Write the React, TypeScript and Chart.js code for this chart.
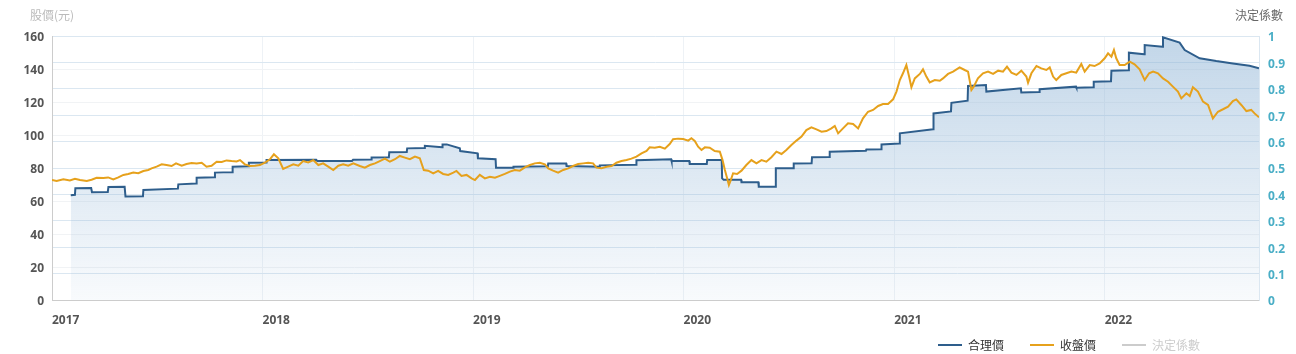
import React, { useEffect, useRef } from "react";
import { Chart, registerables } from "chart.js";

Chart.register(...registerables);

// ---- data (x = fractional year) ----
const closeYears = [
  2017.000, 2017.022, 2017.054, 2017.085, 2017.109, 2017.133, 2017.165, 2017.188, 2017.212, 2017.244,
  2017.267, 2017.291, 2017.315, 2017.339, 2017.362, 2017.386, 2017.410, 2017.434, 2017.457, 2017.473,
  2017.497, 2017.521, 2017.544, 2017.568, 2017.589, 2017.616, 2017.639, 2017.663, 2017.687, 2017.711,
  2017.734, 2017.758, 2017.782, 2017.806, 2017.829, 2017.853, 2017.877, 2017.893, 2017.916, 2017.940,
  2017.964, 2017.988, 2018.011, 2018.035, 2018.054, 2018.075, 2018.098, 2018.122, 2018.146, 2018.170,
  2018.193, 2018.217, 2018.241, 2018.265, 2018.288, 2018.312, 2018.336, 2018.360, 2018.383, 2018.407,
  2018.431, 2018.462, 2018.486, 2018.510, 2018.534, 2018.557, 2018.581, 2018.605, 2018.629, 2018.652,
  2018.676, 2018.700, 2018.724, 2018.747, 2018.766, 2018.787, 2018.811, 2018.834, 2018.858, 2018.882,
  2018.906, 2018.921, 2018.945, 2018.969, 2018.993, 2019.009, 2019.032, 2019.056, 2019.080, 2019.104,
  2019.127, 2019.151, 2019.175, 2019.198, 2019.222, 2019.246, 2019.270, 2019.293, 2019.317, 2019.341,
  2019.357, 2019.380, 2019.404, 2019.428, 2019.452, 2019.475, 2019.499, 2019.523, 2019.547, 2019.570,
  2019.586, 2019.610, 2019.634, 2019.658, 2019.681, 2019.705, 2019.729, 2019.752, 2019.776, 2019.800,
  2019.824, 2019.839, 2019.863, 2019.887, 2019.911, 2019.934, 2019.950, 2019.974, 2019.998, 2020.022,
  2020.037, 2020.053, 2020.069, 2020.085, 2020.101, 2020.124, 2020.148, 2020.172, 2020.185, 2020.196,
  2020.207, 2020.215, 2020.224, 2020.235, 2020.254, 2020.275, 2020.298, 2020.322, 2020.346, 2020.370,
  2020.393, 2020.417, 2020.441, 2020.465, 2020.488, 2020.512, 2020.536, 2020.560, 2020.583, 2020.607,
  2020.631, 2020.655, 2020.678, 2020.702, 2020.718, 2020.734, 2020.757, 2020.781, 2020.805, 2020.829,
  2020.852, 2020.876, 2020.900, 2020.924, 2020.947, 2020.971, 2020.995, 2021.011, 2021.027, 2021.042,
  2021.058, 2021.071, 2021.082, 2021.098, 2021.122, 2021.137, 2021.153, 2021.169, 2021.193, 2021.217,
  2021.232, 2021.256, 2021.280, 2021.311, 2021.335, 2021.351, 2021.367, 2021.378, 2021.398, 2021.422,
  2021.446, 2021.470, 2021.494, 2021.517, 2021.536, 2021.557, 2021.581, 2021.604, 2021.628, 2021.636,
  2021.652, 2021.676, 2021.699, 2021.723, 2021.739, 2021.755, 2021.770, 2021.794, 2021.818, 2021.842,
  2021.865, 2021.889, 2021.905, 2021.929, 2021.952, 2021.976, 2022.000, 2022.016, 2022.032, 2022.044,
  2022.055, 2022.071, 2022.095, 2022.119, 2022.142, 2022.166, 2022.190, 2022.211, 2022.230, 2022.253,
  2022.277, 2022.301, 2022.324, 2022.348, 2022.364, 2022.388, 2022.404, 2022.419, 2022.443, 2022.467,
  2022.491, 2022.514, 2022.538, 2022.562, 2022.586, 2022.609, 2022.625, 2022.649, 2022.673, 2022.696,
  2022.712, 2022.733,
];

const closePrices = [
  72.7, 72.1, 73.1, 72.5, 73.5, 72.7, 72.1, 72.9, 74.1, 73.9,
  74.3, 73.1, 74.3, 75.8, 76.4, 77.2, 76.8, 78.2, 78.8, 79.8,
  80.8, 82.2, 81.8, 81.2, 82.8, 81.4, 82.4, 83.0, 82.8, 83.2,
  80.8, 81.4, 83.8, 83.6, 84.6, 84.2, 84.0, 84.8, 82.2, 81.2,
  81.4, 81.8, 83.2, 85.3, 88.3, 85.9, 79.4, 80.8, 82.2, 81.4,
  84.2, 83.4, 84.8, 81.8, 82.8, 80.8, 78.8, 81.4, 82.2, 81.4,
  82.8, 81.2, 80.2, 81.8, 82.8, 84.2, 85.7, 83.8, 85.3, 87.3,
  86.3, 85.3, 86.9, 85.9, 78.8, 78.4, 76.8, 78.2, 76.4, 75.8,
  77.2, 78.2, 75.2, 75.8, 73.7, 72.7, 75.8, 73.7, 74.7, 74.1,
  75.2, 76.4, 77.8, 78.8, 78.4, 80.4, 81.8, 82.8, 83.2, 82.2,
  79.8, 78.4, 77.2, 78.8, 79.8, 81.2, 82.4, 82.8, 83.2, 82.8,
  80.2, 79.8, 80.8, 81.2, 83.2, 84.2, 84.8, 85.7, 86.9, 88.9,
  90.3, 92.5, 92.3, 92.9, 91.7, 94.5, 97.4, 97.8, 97.6, 96.6,
  98.0, 96.4, 92.9, 90.9, 92.5, 92.3, 90.3, 89.9, 84.8, 78.8,
  73.7, 69.7, 72.7, 76.8, 76.4, 78.4, 81.8, 84.8, 82.8, 84.8,
  83.8, 86.5, 89.9, 88.5, 90.9, 93.9, 96.6, 99.0, 103.0, 104.6,
  103.4, 102.0, 102.4, 104.0, 105.5, 101.0, 104.0, 107.1, 106.7, 104.0,
  110.1, 114.1, 115.2, 117.6, 118.8, 118.8, 121.6, 126.3, 133.3, 137.4,
  142.4, 135.4, 128.9, 134.3, 137.0, 139.8, 135.4, 131.9, 133.3, 132.9,
  134.3, 137.0, 138.4, 141.0, 139.4, 138.4, 127.3, 129.3, 134.3, 137.4,
  138.4, 137.0, 139.0, 138.4, 141.4, 137.8, 136.4, 139.0, 135.4, 131.7,
  137.4, 141.8, 140.4, 139.4, 141.0, 135.4, 133.3, 136.4, 137.4, 138.4,
  137.8, 143.0, 138.4, 142.4, 141.8, 143.4, 146.5, 149.5, 147.5, 151.5,
  146.5, 142.4, 142.4, 144.4, 142.8, 139.8, 133.3, 137.4, 138.4, 137.4,
  134.3, 132.3, 129.3, 126.3, 122.2, 125.3, 123.6, 128.9, 126.3, 120.2,
  118.2, 110.1, 114.1, 115.6, 117.2, 120.6, 121.6, 118.2, 114.5, 115.2,
  113.1, 110.7,
];

const fairYears = [
  2017.089, 2017.109, 2017.111, 2017.186, 2017.190, 2017.265, 2017.268, 2017.345, 2017.349, 2017.432,
  2017.434, 2017.598, 2017.600, 2017.685, 2017.687, 2017.772, 2017.774, 2017.856, 2017.858, 2017.933,
  2017.935, 2018.017, 2018.019, 2018.255, 2018.260, 2018.425, 2018.430, 2018.516, 2018.518, 2018.600,
  2018.602, 2018.685, 2018.687, 2018.769, 2018.771, 2018.853, 2018.855, 2018.875, 2018.937, 2018.939,
  2019.021, 2019.023, 2019.107, 2019.109, 2019.190, 2019.192, 2019.355, 2019.357, 2019.442, 2019.444,
  2019.600, 2019.602, 2019.774, 2019.776, 2019.941, 2019.943, 2020.027, 2020.029, 2020.110, 2020.112,
  2020.181, 2020.183, 2020.190, 2020.273, 2020.275, 2020.355, 2020.357, 2020.436, 2020.438, 2020.521,
  2020.523, 2020.608, 2020.610, 2020.692, 2020.694, 2020.866, 2020.868, 2020.938, 2020.940, 2021.025,
  2021.027, 2021.185, 2021.187, 2021.270, 2021.272, 2021.349, 2021.351, 2021.436, 2021.438, 2021.602,
  2021.604, 2021.689, 2021.691, 2021.864, 2021.866, 2021.946, 2021.948, 2022.030, 2022.032, 2022.113,
  2022.115, 2022.188, 2022.190, 2022.275, 2022.277, 2022.356, 2022.380, 2022.451, 2022.530, 2022.609,
  2022.688, 2022.733,
];

const fairPrices = [
  63.5, 63.8, 67.7, 67.9, 65.3, 65.5, 68.5, 68.6, 62.8, 62.9,
  66.7, 67.5, 70.1, 70.6, 74.1, 74.4, 77.2, 77.5, 80.8, 81.0,
  83.2, 83.4, 84.8, 85.0, 84.2, 84.3, 85.0, 85.1, 86.3, 86.5,
  89.5, 89.7, 91.9, 92.1, 93.5, 92.6, 94.3, 94.3, 91.9, 90.3,
  88.9, 85.9, 85.3, 80.2, 80.2, 80.8, 81.0, 82.8, 82.8, 81.2,
  80.8, 81.6, 82.0, 84.7, 85.3, 84.2, 84.2, 82.4, 82.4, 84.8,
  84.8, 73.7, 72.9, 72.9, 71.3, 71.3, 68.7, 68.7, 79.8, 79.8,
  82.8, 82.9, 86.5, 86.6, 89.9, 90.5, 91.2, 91.4, 94.3, 94.8,
  101.0, 103.5, 113.1, 114.3, 119.5, 120.8, 129.7, 130.3, 126.3, 128.3,
  125.7, 126.0, 127.7, 129.3, 128.7, 129.0, 132.3, 132.6, 139.0, 139.3,
  149.9, 149.0, 154.5, 153.5, 159.2, 156.0, 151.5, 146.5, 144.8, 143.4,
  142.0, 140.4,
];

const r2Values: number[] = [];

const yearTicks = [2017, 2018, 2019, 2020, 2021, 2022];
const xMin = 2017;
const xMax = 2022.733;

const seriesNames = ["合理價", "收盤價", "決定係數"];
const seriesColors = ["#2e5e8c", "#e6a11c", "#cccccc"];
const legendTextColors = ["#333333", "#333333", "#cccccc"];

const leftTitle = "股價(元)";
const rightTitle = "決定係數";

const tickFont = { family: "'Open Sans', 'DejaVu Sans', sans-serif", size: 12, weight: "bold" as const };

const axisTitlesPlugin = {
  id: "axisTitles",
  afterDraw(chart: any) {
    const { ctx, chartArea } = chart;
    ctx.save();
    ctx.font = "12px 'Noto Sans CJK TC', sans-serif";
    ctx.textAlign = "center";
    ctx.textBaseline = "middle";
    ctx.fillStyle = "#bbbbbb";
    ctx.fillText(leftTitle, chartArea.left, 15);
    ctx.fillStyle = "#666666";
    ctx.fillText(rightTitle, chartArea.right, 15);
    ctx.restore();
  },
};

export default function App() {
  const canvasRef = useRef<HTMLCanvasElement | null>(null);

  useEffect(() => {
    document.body.style.margin = "0";
    const canvas = canvasRef.current;
    if (!canvas) return;

    const fairData = fairYears.map((x, i) => ({ x, y: fairPrices[i] }));
    const closeData = closeYears.map((x, i) => ({ x, y: closePrices[i] }));

    const chart = new Chart(canvas, {
      type: "line",
      data: {
        datasets: [
          {
            label: seriesNames[0],
            data: fairData,
            borderColor: seriesColors[0],
            borderWidth: 2,
            pointRadius: 0,
            tension: 0,
            order: 1,
            fill: "origin",
            backgroundColor: (c: any) => {
              const area = c.chart.chartArea;
              if (!area) return "rgba(143,180,214,0.3)";
              const g = c.chart.ctx.createLinearGradient(0, area.top, 0, area.bottom);
              g.addColorStop(0, "rgba(143,180,214,0.55)");
              g.addColorStop(1, "rgba(143,180,214,0.06)");
              return g;
            },
          },
          {
            label: seriesNames[1],
            data: closeData,
            borderColor: seriesColors[1],
            borderWidth: 2,
            pointRadius: 0,
            tension: 0,
            order: 0,
            fill: false,
          },
          {
            label: seriesNames[2],
            data: r2Values,
            yAxisID: "y1",
            borderColor: seriesColors[2],
            borderWidth: 2,
            pointRadius: 0,
            hidden: true,
          },
        ],
      },
      options: {
        responsive: false,
        maintainAspectRatio: false,
        animation: false,
        devicePixelRatio: 1,
        layout: { padding: { top: 36, bottom: 24, left: 0, right: 0 } },
        plugins: {
          legend: { display: false },
          tooltip: { enabled: false },
        },
        scales: {
          x: {
            type: "linear",
            min: xMin,
            max: xMax,
            afterBuildTicks: (s: any) => {
              s.ticks = yearTicks.map((v) => ({ value: v }));
            },
            afterFit: (s: any) => {
              s.height = 30;
            },
            ticks: {
              align: "start",
              padding: 13,
              color: "#555555",
              font: tickFont,
              maxRotation: 0,
              autoSkip: false,
              callback: (v: any) => String(v),
            },
            grid: { color: "#eef2f6", drawTicks: false },
            border: { color: "#cccccc" },
          },
          y: {
            position: "left",
            min: 0,
            max: 160,
            afterFit: (s: any) => {
              s.width = 52;
            },
            ticks: { stepSize: 20, padding: 8, color: "#555555", font: tickFont, labelOffset: 2 },
            grid: { color: "#f1f3f5", drawTicks: false },
            border: { color: "#cccccc" },
          },
          y1: {
            position: "right",
            min: 0,
            max: 1,
            afterFit: (s: any) => {
              s.width = 37;
            },
            ticks: {
              stepSize: 0.1,
              padding: 9,
              color: "#4aaec6",
              font: tickFont,
              labelOffset: 2,
              callback: (v: any) => String(Math.round(Number(v) * 10) / 10),
            },
            grid: { color: "#dbe7f1", drawTicks: false },
            border: { color: "#dbe7f1" },
          },
        },
      } as any,
      plugins: [axisTitlesPlugin],
    });

    return () => chart.destroy();
  }, []);

  return (
    <div style={{ position: "relative", width: 1296, height: 354, background: "#fff" }}>
      <canvas ref={canvasRef} width={1296} height={354} style={{ display: "block" }} />
      <div
        style={{
          position: "absolute",
          left: 938,
          top: 337,
          display: "flex",
          alignItems: "center",
          fontFamily: "'Noto Sans CJK TC', sans-serif",
          fontSize: 12,
          lineHeight: "16px",
        }}
      >
        {seriesNames.map((name, i) => (
          <div key={name} style={{ display: "flex", alignItems: "center", marginLeft: i === 0 ? 0 : 26 }}>
            <span
              style={{
                display: "inline-block",
                width: 24,
                height: 2,
                background: seriesColors[i],
                marginRight: 6,
              }}
            />
            <span style={{ color: legendTextColors[i] }}>{name}</span>
          </div>
        ))}
      </div>
    </div>
  );
}
